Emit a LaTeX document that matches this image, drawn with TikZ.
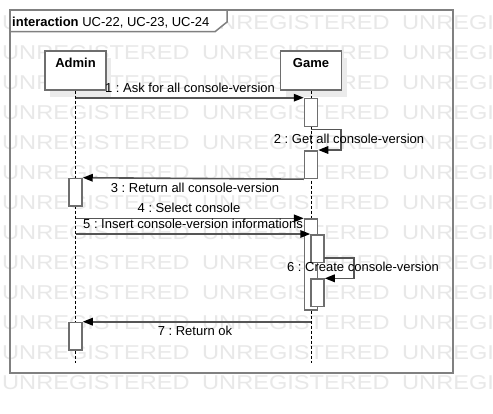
\documentclass[tikz,border=0pt]{standalone}
\usepackage{fontspec}
\setmainfont{Liberation Sans}
\usetikzlibrary{arrows.meta,shadows}
\definecolor{framegray}{RGB}{128,128,128}
\definecolor{boxgray}{RGB}{110,110,110}
\definecolor{msggray}{RGB}{85,85,85}
\definecolor{stampgray}{RGB}{232,232,232}
\tikzset{
  stamp/.style={anchor=base west, inner sep=0pt, text=stampgray, font=\fontsize{20}{20}\selectfont},
  head/.style={draw=boxgray, fill=white, line width=1.5pt, anchor=north, minimum width=61pt, inner xsep=0pt, inner ysep=7pt, text height=9.4pt, text depth=15.6pt, font=\bfseries\fontsize{13}{15}\selectfont, drop shadow={shadow xshift=5pt, shadow yshift=-7pt, fill=black!8, opacity=1}},
  act/.style={draw=boxgray, fill=white, line width=1.5pt, anchor=north, minimum width=13pt, inner sep=0pt},
  life/.style={dash pattern=on 3pt off 2pt, line width=0.9pt},
  msg/.style={draw=msggray, line width=1.6pt, -{Triangle[length=10pt,width=7.5pt,color=black]}},
  lbl/.style={inner sep=0pt, text height=9.4pt, text depth=0pt, font=\fontsize{13}{15}\selectfont}
}
\frenchspacing
\begin{document}
\begin{tikzpicture}[x=1pt,y=-1pt]
  \useasboundingbox (0,0) rectangle (493,413);
  \fill[white] (0,0) rectangle (493,413);

  \foreach \r in {0,...,12}
    \foreach \c in {0,1,2}
      \node[stamp, name=wm-\r-\c] at (2+200*\c, 29+30*\r) {\scalebox{1.18}[1]{UNREGISTERED}};

  \draw[framegray, line width=1.8pt] (10,10) rectangle (453,372.7);
  \draw[framegray, line width=1.5pt, fill=white] (10,10) -- (227,10) -- (227,22) -- (215,31.7) -- (10,31.7) -- cycle;
  \node[lbl, anchor=base west, text height=, text depth=] (title) at (12,26.7) {\textbf{interaction} UC-22, UC-23, UC-24};

  \node[head] (admin) at (75.5,50) {Admin};
  \node[head] (game) at (311,50) {Game};
  \coordinate (adminend) at (75.5,362.7);
  \coordinate (gameend) at (311,362.7);
  \draw[life] (admin.south) -- (adminend);
  \draw[life] (game.south) -- (gameend);

  \node[act, minimum height=28pt] (g1) at (311,97.7) {};
  \node[act, minimum height=27.7pt] (g2) at (311,150) {};
  \node[act, minimum height=27.3pt] (a1) at (75.5,177.7) {};
  \node[act, minimum height=90.7pt] (g3) at (311,218.3) {};
  \node[act, minimum height=27.7pt] (g4) at (317.5,234) {};
  \node[act, minimum height=27.4pt] (g5) at (317.5,278.3) {};
  \node[act, minimum height=27.6pt] (a2) at (75.5,321.7) {};

  \coordinate (m1) at (75.5,97.7);
  \coordinate (m2) at (311,129.3);
  \coordinate (m4) at (75.5,218.3);
  \coordinate (m5) at (75.5,234);
  \coordinate (m6) at (324,257.7);
  \coordinate (m7) at (311,321.7);

  \draw[msg] (m1) -- (g1.north west);
  \draw[msg] (m2) -- ++(30,0) |- (g2.north east);
  \draw[msg] (g2.south west) -- (a1.north east);
  \draw[msg] (m4) -- (g3.north west);
  \draw[msg] (m5) -- (g4.north west);
  \draw[msg] (m6) -- ++(30,0) |- (g5.north east);
  \draw[msg] (m7) -- (a2.north east);

  \node[lbl] (l1) at (190,87.7) {1 : Ask for all console-version};
  \node[lbl] (l2) at (349,138.3) {2 : Get all console-version};
  \node[lbl] (l3) at (195,187.3) {3 : Return all console-version};
  \node[lbl] (l4) at (189,207.7) {4 : Select console};
  \node[lbl] (l5) at (193,223.3) {5 : Insert console-version informations};
  \node[lbl] (l6) at (363,266.7) {6 : Create console-version};
  \node[lbl] (l7) at (195,331) {7 : Return ok};
\end{tikzpicture}
\end{document}
